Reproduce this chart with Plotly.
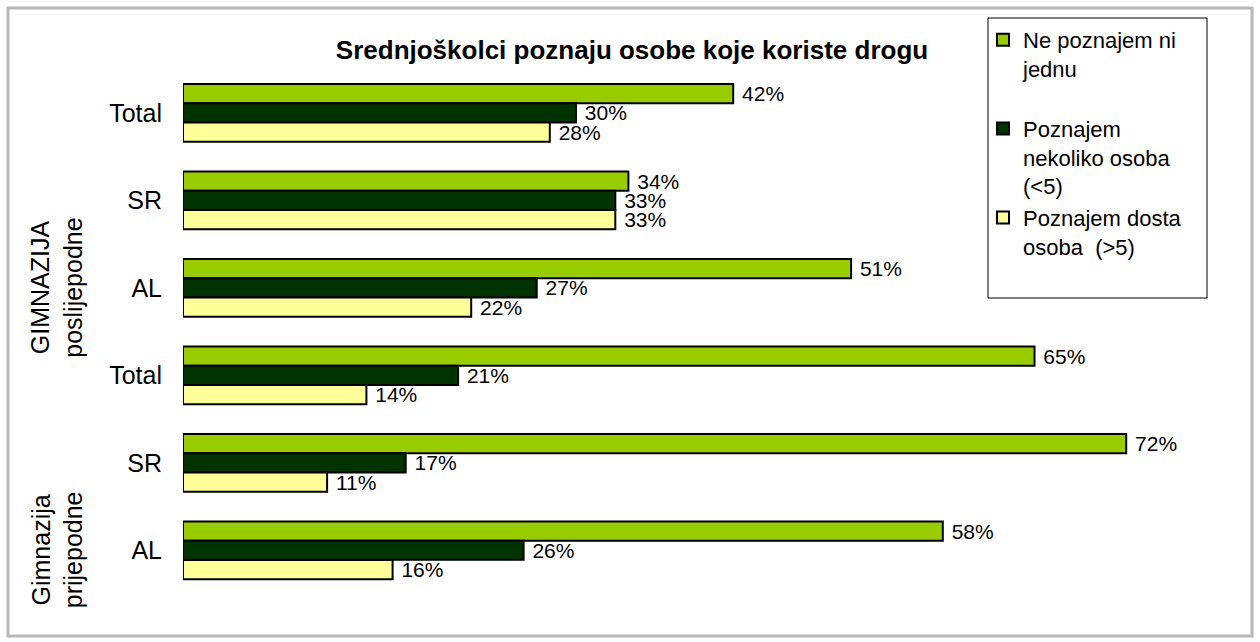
import plotly.graph_objects as go

# ---- data ----
categories = ["Total", "SR", "AL", "Total", "SR", "AL"]
group_labels = ["GIMNAZIJA<br>poslijepodne", "Gimnazija<br>prijepodne"]
group_label_rows = [2, 5]
series_names = [
    "Ne poznajem ni<br>jednu<br>\u00a0",
    "Poznajem<br>nekoliko osoba<br>(<5)",
    "Poznajem dosta<br>osoba\u00a0 (>5)",
]
ne_poznajem = [42, 34, 51, 65, 72, 58]
nekoliko = [30, 33, 27, 21, 17, 26]
dosta = [28, 33, 22, 14, 11, 16]
series_values = [ne_poznajem, nekoliko, dosta]
colors = ["#99CC00", "#003300", "#FFFF99"]
title = "Srednjoškolci poznaju osobe koje koriste drogu"

FONT = "Arial, 'Liberation Sans', sans-serif"
W, H = 1260, 642
L, R, T, B = 183, 29, 69, 48
PW = W - L - R
PH = H - T - B

def px_x(p):
    return (p - L) / PW

def px_y(p):
    return (H - B - p) / PH

rows = list(range(len(categories)))

fig = go.Figure()
for name, vals, col in zip(series_names, series_values, colors):
    fig.add_trace(go.Bar(
        y=rows, x=vals, name=name, orientation="h",
        marker=dict(color=col, line=dict(color="black", width=2)),
        text=["\u00a0" + f"{v}%" for v in vals],
        textposition="outside", constraintext="none", cliponaxis=False,
        textfont=dict(family=FONT, size=21, color="black"),
        hoverinfo="skip",
    ))

annotations = []
for lab, r in zip(group_labels, group_label_rows):
    annotations.append(dict(
        text=lab, xref="paper", yref="y", x=px_x(57), y=r,
        textangle=-90, showarrow=False, xanchor="center", yanchor="middle",
        font=dict(family=FONT, size=25, color="black"), align="center",
    ))

shapes = [
    dict(type="rect", xref="paper", yref="paper",
         x0=px_x(8), x1=px_x(1252), y0=px_y(8), y1=px_y(636),
         line=dict(color="#b8b8b8", width=3), layer="below"),
    dict(type="rect", xref="paper", yref="paper",
         x0=px_x(988), x1=px_x(1207), y0=px_y(18), y1=px_y(298),
         line=dict(color="black", width=1), fillcolor="white", layer="below"),
]

fig.update_layout(
    width=W, height=H,
    margin=dict(l=L, r=R, t=T, b=B, pad=0),
    paper_bgcolor="white", plot_bgcolor="rgba(0,0,0,0)",
    barmode="group", bargap=0.34, bargroupgap=0,
    title=dict(text="<b>" + title + "</b>", x=632 / W, xanchor="center",
               y=1 - 50 / H, yanchor="middle", yref="container", xref="container",
               font=dict(family=FONT, size=26, color="black")),
    xaxis=dict(range=[0, 80], showgrid=False, zeroline=False, showline=False,
               showticklabels=False, ticks="", fixedrange=True),
    yaxis=dict(range=[5.5, -0.5], tickvals=rows, ticktext=categories,
               showgrid=False, zeroline=False, showline=False, ticks="",
               ticklabelstandoff=20,
               tickfont=dict(family=FONT, size=25, color="black")),
    legend=dict(x=px_x(983), y=px_y(19), xanchor="left", yanchor="top",
                bgcolor="rgba(0,0,0,0)", borderwidth=0, valign="top",
                font=dict(family=FONT, size=22, color="black"),
                traceorder="normal"),
    annotations=annotations,
    shapes=shapes,
    showlegend=True,
)

fig.write_html(
    "out.html",
    config={"displayModeBar": False},
    post_script="document.body.style.margin='0';document.body.style.overflow='hidden';",
)
